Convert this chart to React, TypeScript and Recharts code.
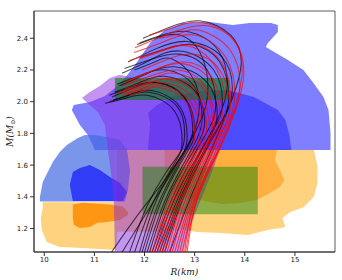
import React from 'react';
import { ComposedChart, Scatter, XAxis, YAxis, ReferenceArea } from 'recharts';

const X_DOMAIN: [number, number] = [9.795, 15.8];
const Y_DOMAIN: [number, number] = [1.052, 2.572];
const xTicks = [10, 11, 12, 13, 14, 15];
const yTicks = [1.2, 1.4, 1.6, 1.8, 2.0, 2.2, 2.4];

// Contour regions (R km, M Msun)
const blueOuter = [[11.01,1.695],[10.87,1.79],[10.71,1.853],[10.55,1.948],[10.59,1.979],[10.91,1.998],[11.21,2.036],[11.41,2.087],[11.61,2.149],[11.81,2.231],[12.11,2.37],[12.41,2.452],[12.76,2.497],[13.3,2.503],[13.76,2.484],[14.1,2.497],[14.52,2.497],[14.66,2.484],[14.66,2.44],[14.46,2.37],[14.42,2.345],[14.52,2.326],[14.86,2.263],[15.17,2.2],[15.37,2.118],[15.57,2.03],[15.67,1.948],[15.71,1.802],[15.71,1.695]];
const blueInner = [[12.07,1.695],[12.11,1.866],[12.07,1.929],[12.25,1.979],[12.6,2.036],[13.1,2.068],[13.66,2.074],[14.18,2.03],[14.66,1.948],[14.81,1.884],[14.89,1.79],[14.93,1.695]];
const orangeOuter = [[9.97,1.366],[11.45,1.366],[11.45,1.695],[15.38,1.695],[15.45,1.59],[15.45,1.49],[15.38,1.4],[15.17,1.335],[14.91,1.304],[14.75,1.266],[14.81,1.209],[14.71,1.203],[14.46,1.19],[14.06,1.159],[13.52,1.172],[13.06,1.178],[12.78,1.19],[12.2,1.18],[11.45,1.18],[11.43,1.065],[10.77,1.077],[10.31,1.083],[10.05,1.115],[9.95,1.19],[9.93,1.266],[9.97,1.33]];
const orangeInnerRight = [[12.4,1.695],[14.64,1.695],[14.6,1.632],[14.7,1.569],[14.79,1.506],[14.7,1.462],[14.5,1.424],[14.24,1.38],[13.9,1.361],[13.56,1.355],[13.3,1.367],[13.1,1.38],[12.9,1.39],[12.6,1.41],[12.4,1.45]];
const orangeInnerLeft = [[10.57,1.352],[10.77,1.362],[11.31,1.352],[11.57,1.338],[11.67,1.305],[11.67,1.285],[11.51,1.254],[11.25,1.241],[11.05,1.235],[10.91,1.21],[10.71,1.203],[10.59,1.222],[10.57,1.266],[10.57,1.304]];
const royalOuter = [[9.914,1.37],[9.914,1.399],[9.97,1.494],[10.17,1.62],[10.31,1.683],[10.45,1.727],[10.67,1.771],[10.81,1.79],[11.01,1.79],[11.25,1.777],[11.51,1.758],[11.65,1.695],[11.71,1.569],[11.67,1.443],[11.61,1.37]];
const royalInner = [[10.57,1.556],[10.71,1.582],[10.91,1.601],[11.11,1.569],[11.31,1.525],[11.51,1.487],[11.65,1.43],[11.57,1.374],[11.11,1.374],[10.57,1.374],[10.51,1.474]];
const purpleBand = [[11.41,1.052],[11.39,1.35],[11.35,1.506],[11.27,1.695],[11.21,1.853],[11.07,1.935],[10.75,2.023],[10.91,2.061],[11.11,2.099],[11.31,2.149],[11.51,2.17],[11.8,2.15],[12.2,2.13],[12.7,2.15],[13.2,2.12],[13.55,2.0],[13.6,1.8],[13.4,1.6],[13.15,1.4],[12.95,1.25],[12.85,1.15],[12.78,1.052]];

// Measurement boxes: [Rmin, Rmax, Mmin, Mmax]
const boxJ0740 = [11.41, 13.69, 2.01, 2.15];
const boxJ0030 = [11.96, 14.26, 1.29, 1.59];

// Mass-radius curves
const blackCurves = [
  [[12.5,1.05],[12.95,1.42],[13.42,1.76],[13.75,2.02],[13.93,2.24],[13.72,2.42],[13.1,2.51],[12.5,2.47],[11.97,2.4]],
  [[12.3,1.05],[12.72,1.4],[13.2,1.7],[13.58,1.9],[13.75,2.07],[13.55,2.28],[12.85,2.38],[12.2,2.33],[11.67,2.25]],
  [[12.2,1.05],[12.62,1.4],[13.08,1.67],[13.42,1.85],[13.55,1.98],[13.38,2.2],[12.7,2.32],[12.1,2.26],[11.55,2.18]],
  [[12.4,1.05],[12.72,1.35],[13.1,1.62],[13.35,1.8],[13.45,1.93],[13.25,2.12],[12.6,2.22],[12.0,2.17],[11.5,2.1]],
  [[12.1,1.05],[12.45,1.38],[12.85,1.62],[13.1,1.76],[13.2,1.88],[13.0,2.07],[12.4,2.16],[11.9,2.12],[11.4,2.06]],
  [[12.0,1.05],[12.32,1.36],[12.7,1.6],[12.92,1.72],[13.0,1.83],[12.82,2.02],[12.3,2.12],[11.8,2.09],[11.35,2.03]],
  [[11.9,1.05],[12.2,1.35],[12.55,1.57],[12.78,1.68],[12.85,1.78],[12.7,1.97],[12.15,2.07],[11.75,2.05],[11.37,2.01]],
  [[11.7,1.05],[12.05,1.34],[12.42,1.55],[12.67,1.66],[12.75,1.75],[12.6,1.94],[12.05,2.04],[11.6,2.02],[11.21,1.99]],
  [[11.34,1.05],[11.9,1.3],[12.44,1.52],[12.85,1.72],[13.08,1.92],[12.98,2.14],[12.55,2.27],[12.2,2.25],[11.8,2.2]],
  [[11.55,1.05],[12.1,1.33],[12.6,1.58],[13.0,1.8],[13.25,2.02],[13.15,2.28],[12.7,2.42],[12.2,2.4],[11.85,2.36]],
  [[12.05,1.05],[12.4,1.37],[12.8,1.62],[13.05,1.77],[13.15,1.9],[12.98,2.1],[12.45,2.2],[11.95,2.17],[11.45,2.11]],
  [[12.15,1.05],[12.55,1.39],[12.98,1.66],[13.3,1.84],[13.42,1.98],[13.25,2.2],[12.7,2.3],[12.15,2.27],[11.6,2.21]],
  [[11.95,1.05],[12.28,1.36],[12.65,1.59],[12.88,1.72],[12.96,1.84],[12.78,2.03],[12.25,2.12],[11.8,2.1],[11.3,2.04]],
  [[12.25,1.05],[12.68,1.4],[13.15,1.7],[13.5,1.92],[13.65,2.1],[13.48,2.32],[12.9,2.44],[12.35,2.42],[11.9,2.37]],
  [[11.8,1.05],[12.15,1.35],[12.5,1.56],[12.72,1.68],[12.8,1.79],[12.65,1.97],[12.1,2.06],[11.7,2.04],[11.3,2.0]],
  [[12.35,1.05],[12.75,1.4],[13.2,1.68],[13.55,1.88],[13.68,2.03],[13.5,2.25],[12.95,2.36],[12.4,2.33],[11.9,2.28]],
];
const redCurves = [
  [[12.85,1.05],[13.05,1.38],[13.5,1.7],[13.82,1.95],[13.98,2.17],[13.8,2.38],[13.2,2.48],[12.5,2.43],[11.81,2.34]],
  [[12.75,1.05],[13.0,1.36],[13.38,1.66],[13.66,1.86],[13.8,2.03],[13.62,2.28],[13.0,2.42],[12.4,2.38],[11.79,2.31]],
  [[12.65,1.05],[12.95,1.38],[13.3,1.65],[13.58,1.83],[13.7,1.98],[13.5,2.2],[12.95,2.3],[12.4,2.26],[11.95,2.2]],
  [[12.55,1.05],[12.85,1.37],[13.2,1.63],[13.45,1.8],[13.55,1.93],[13.35,2.15],[12.8,2.25],[12.2,2.2],[11.6,2.12]],
  [[12.45,1.05],[12.75,1.37],[13.08,1.61],[13.3,1.76],[13.4,1.88],[13.2,2.1],[12.65,2.2],[12.1,2.16],[11.55,2.1]],
  [[12.35,1.05],[12.65,1.36],[12.98,1.59],[13.2,1.72],[13.3,1.83],[13.1,2.05],[12.5,2.15],[11.95,2.1],[11.45,2.05]],
  [[12.25,1.05],[12.55,1.36],[12.88,1.58],[13.07,1.7],[13.15,1.81],[12.97,2.02],[12.4,2.12],[12.0,2.09],[11.6,2.05]],
  [[12.15,1.05],[12.45,1.35],[12.75,1.56],[12.93,1.68],[13.0,1.78],[12.85,1.99],[12.3,2.09],[12.0,2.07],[11.7,2.04]],
  [[12.8,1.05],[13.0,1.38],[13.45,1.68],[13.75,1.9],[13.9,2.08],[13.72,2.32],[13.1,2.45],[12.7,2.43],[12.3,2.4]],
  [[12.6,1.05],[12.9,1.36],[13.25,1.64],[13.52,1.82],[13.62,1.96],[13.45,2.2],[12.9,2.35],[12.3,2.32],[11.7,2.26]],
  [[12.5,1.05],[12.8,1.37],[13.15,1.63],[13.4,1.8],[13.5,1.93],[13.3,2.14],[12.75,2.24],[12.2,2.2],[11.65,2.13]],
  [[12.7,1.05],[12.97,1.37],[13.33,1.66],[13.6,1.85],[13.72,2.0],[13.55,2.24],[13.0,2.36],[12.45,2.33],[11.9,2.27]],
  [[12.4,1.05],[12.7,1.36],[13.05,1.6],[13.28,1.75],[13.36,1.87],[13.18,2.08],[12.6,2.18],[12.1,2.14],[11.6,2.08]],
  [[12.3,1.05],[12.6,1.36],[12.94,1.59],[13.15,1.72],[13.24,1.84],[13.05,2.04],[12.5,2.14],[12.0,2.11],[11.5,2.06]],
  [[12.2,1.05],[12.5,1.35],[12.82,1.57],[13.02,1.7],[13.1,1.8],[12.92,2.0],[12.35,2.1],[11.95,2.08],[11.55,2.04]],
  [[12.82,1.05],[13.05,1.39],[13.48,1.7],[13.8,1.96],[13.95,2.2],[13.75,2.4],[13.15,2.5],[12.6,2.47],[12.1,2.42]],
];

const toPts = (a: number[][]) => a.map(([r, m]) => ({ r, m }));
const boxPts = (b: number[]) => [
  { r: b[0], m: b[2] }, { r: b[1], m: b[2] }, { r: b[1], m: b[3] }, { r: b[0], m: b[3] },
];
const Empty = () => <g />;

const fillLayer = (key: string, data: { r: number; m: number }[], color: string, opacity: number) => (
  <Scatter
    key={key}
    data={data}
    fill={color}
    shape={Empty}
    line={{ fill: color, fillOpacity: opacity, stroke: 'none' }}
    lineJointType="linearClosed"
    isAnimationActive={false}
  />
);

const curveLayer = (key: string, data: number[][], color: string) => (
  <Scatter
    key={key}
    data={toPts(data)}
    fill={color}
    shape={Empty}
    line={{ stroke: color, strokeWidth: 1.05, strokeOpacity: 0.68, fill: 'none' }}
    lineJointType="natural"
    isAnimationActive={false}
  />
);

const tickStyle = { fontFamily: 'DejaVu Sans', fontSize: 7, fill: '#222' };

const XLabel = (props: any) => {
  const vb = props.viewBox || { x: 34, y: 252, width: 301 };
  return (
    <text x={vb.x + vb.width / 2} y={275} textAnchor="middle" fontFamily="DejaVu Serif" fontStyle="italic" fontSize={9} fill="#222">
      R(km)
    </text>
  );
};

const YLabel = (props: any) => {
  const vb = props.viewBox || { x: 0, y: 11, height: 241 };
  const cy = vb.y + vb.height / 2;
  return (
    <text transform={`translate(13,${cy}) rotate(-90)`} textAnchor="middle" fontFamily="DejaVu Serif" fontStyle="italic" fontSize={9} fill="#222">
      <tspan>M(M</tspan>
      <tspan fontSize={6} dy={2} fontStyle="normal">⊙</tspan>
      <tspan dy={-2}>)</tspan>
    </text>
  );
};

export default function App() {
  return (
    <div style={{ position: 'absolute', left: 0, top: 0, width: 342, height: 280, background: '#fff' }}>
      <ComposedChart width={342} height={280} margin={{ top: 11, right: 7, bottom: 0, left: 0 }}>
        <XAxis
          type="number"
          dataKey="r"
          domain={X_DOMAIN}
          ticks={xTicks}
          allowDataOverflow
          height={28}
          tick={tickStyle}
          tickSize={4}
          tickMargin={1}
          stroke="#333"
          tickFormatter={(v: number) => String(v)}
          label={<XLabel />}
        />
        <YAxis
          type="number"
          dataKey="m"
          domain={Y_DOMAIN}
          ticks={yTicks}
          allowDataOverflow
          width={34}
          tick={tickStyle}
          tickSize={4}
          tickMargin={2}
          stroke="#333"
          tickFormatter={(v: number) => v.toFixed(1)}
          label={<YLabel />}
        />
        {fillLayer('blueOuter', toPts(blueOuter), '#0000ff', 0.5)}
        {fillLayer('blueInner', toPts(blueInner), '#0000ff', 0.4)}
        {fillLayer('orangeOuter', toPts(orangeOuter), '#ffa500', 0.5)}
        {fillLayer('orangeInnerRight', toPts(orangeInnerRight), '#ff8c00', 0.5)}
        {fillLayer('orangeInnerLeft', toPts(orangeInnerLeft), '#ff8c00', 0.85)}
        {fillLayer('royalOuter', toPts(royalOuter), '#4169e1', 0.7)}
        {fillLayer('royalInner', toPts(royalInner), '#0000ff', 0.6)}
        {fillLayer('purple', toPts(purpleBand), '#8a2be2', 0.5)}
        {fillLayer('boxJ0740', boxPts(boxJ0740), '#008000', 0.58)}
        {fillLayer('boxJ0030', boxPts(boxJ0030), '#008000', 0.45)}
        {blackCurves.map((c, i) => curveLayer(`k${i}`, c, '#000000'))}
        {redCurves.map((c, i) => curveLayer(`r${i}`, c, '#ff0000'))}
        <ReferenceArea x1={X_DOMAIN[0]} x2={X_DOMAIN[1]} y1={Y_DOMAIN[0]} y2={Y_DOMAIN[1]} fill="none" stroke="#333" strokeWidth={0.8} ifOverflow="visible" />
      </ComposedChart>
    </div>
  );
}
